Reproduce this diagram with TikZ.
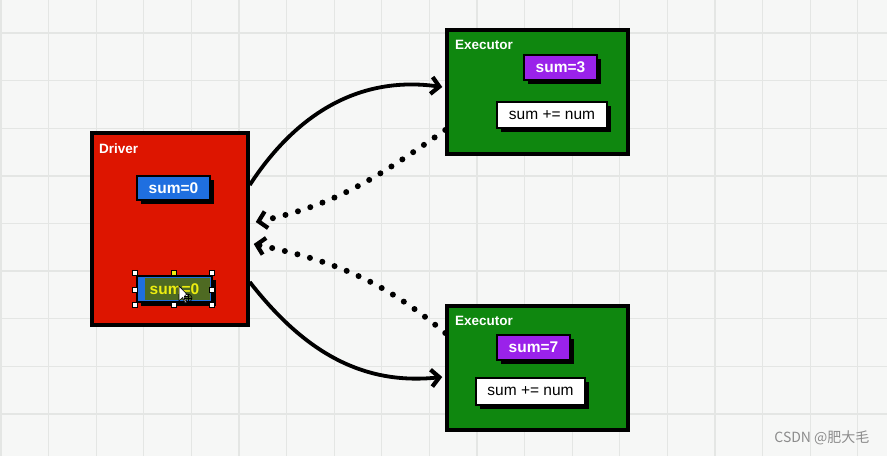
\documentclass[tikz,border=0pt]{standalone}
\usepackage{fontspec}
\setmainfont{Liberation Sans}
\newfontfamily\cjk{Noto Sans CJK SC}
\usetikzlibrary{arrows.meta,shadows}
\definecolor{bg}{HTML}{F6F7F6}
\definecolor{gridc}{HTML}{E4E6E4}
\definecolor{dred}{HTML}{DD1500}
\definecolor{dgreen}{HTML}{0F870F}
\definecolor{bbox}{HTML}{1F6FE0}
\definecolor{pbox}{HTML}{9A22EA}
\definecolor{olive}{HTML}{4E6A22}
\definecolor{yel}{HTML}{EEEE10}
\tikzset{
  mainbox/.style={draw=black, line width=3.5pt, inner sep=0pt},
  inbox/.style={draw=black, line width=1.8pt, inner sep=0pt,
    general shadow={fill=black, shadow xshift=3.5pt, shadow yshift=-3.5pt},
    font=\fontsize{15.5}{17}\selectfont},
  boxlbl/.style={anchor=west, text=white, font=\bfseries\fontsize{13.5}{15}\selectfont, inner sep=0pt},
  sendarrow/.style={line width=3.8pt, -{Straight Barb[length=8pt,width=17pt,line width=4.2pt]}},
  backarrow/.style={line width=6pt, dash pattern=on 0pt off 13pt, line cap=round,
    -{Straight Barb[length=8pt,width=17pt,line width=4.2pt]}},
  handle/.style={draw=black, fill=white, line width=0.5pt, minimum size=5pt, inner sep=0pt}
}
\begin{document}
\begin{tikzpicture}[x=1pt,y=-1pt]
\fill[bg] (0,0) rectangle (887,456);
\useasboundingbox (0,0) rectangle (887,456);
\foreach \i in {0,...,18} {
  \draw[gridc, line width=1.3pt] ({\i*47.6+1},0) -- ({\i*47.6+1},456);
}
\foreach \j in {0,...,9} {
  \draw[gridc, line width=1.3pt] (0,{\j*47.6-14.5}) -- (887,{\j*47.6-14.5});
}

% main boxes
\node[mainbox, fill=dred, minimum width=156pt, minimum height=192pt] (driver) at (170,229) {};
\node[mainbox, fill=dgreen, minimum width=181pt, minimum height=124pt] (exA) at (537.5,92) {};
\node[mainbox, fill=dgreen, minimum width=181pt, minimum height=124pt] (exB) at (537.5,368) {};

\node[boxlbl] (tdrv) at (99,149) {Driver};
\node[boxlbl] (texA) at (455,45) {Executor};
\node[boxlbl] (texB) at (455,321) {Executor};

% inner boxes
\node[inbox, fill=bbox, text=white, minimum width=73pt, minimum height=24pt] (s0) at (173.5,188) {\bfseries sum=0};
\node[inbox, fill=pbox, text=white, minimum width=73pt, minimum height=25pt] (s3) at (560.5,67.5) {\bfseries sum=3};
\node[inbox, fill=white, text=black, minimum width=110pt, minimum height=26pt] (addA) at (552,115) {sum += num};
\node[inbox, fill=pbox, text=white, minimum width=73pt, minimum height=25pt] (s7) at (533.5,347.5) {\bfseries sum=7};
\node[inbox, fill=white, text=black, minimum width=109pt, minimum height=27pt] (addB) at (530.5,391.5) {sum += num};

% selected box
\node[inbox, fill=bbox, minimum width=75pt, minimum height=26pt] (sel) at (174.5,289) {};
\fill[olive] (145,278) rectangle (210,300);
\node[text=yel, font=\bfseries\fontsize{15.5}{17}\selectfont] (selt) at (174.5,289) {sum=0};
\foreach \p/\q in {135/273,212/273,135/290,212/290,135/305,174/305,212/305} {
  \node[handle] at (\p,\q) {};
}
\node[handle, fill=yel] at (174,273) {};
% cursor
\filldraw[fill=white, draw=black, line width=0.6pt]
  (179,286) -- (179,301) -- (182.5,297.5) -- (185,303) -- (187,302) -- (184.5,296.5) -- (189,296.5) -- cycle;
\draw[black, line width=0.6pt] (188,298) circle (4pt);
\draw[black, line width=0.6pt] (184,298) -- (192,298) (188,294) -- (188,302);

% connectors
\draw[sendarrow] ([yshift=44pt]driver.east) to[out=57,in=172] ([xshift=-3pt,yshift=5pt]exA.west);
\draw[sendarrow] ([yshift=-53pt]driver.east) to[out=-52,in=186] ([xshift=-3pt,yshift=-9pt]exB.west);
\draw[backarrow] ([yshift=-38pt]exA.west) to[out=215,in=12] ([xshift=6pt,yshift=7pt]driver.east);
\draw[backarrow] ([yshift=35pt]exB.west) to[out=140,in=-12] ([xshift=4pt,yshift=-15pt]driver.east);

% watermark
\node[text=black!45, font=\cjk\fontsize{14}{16}\selectfont, anchor=east] (wm) at (873,438) {CSDN @肥大毛};
\end{tikzpicture}
\end{document}
